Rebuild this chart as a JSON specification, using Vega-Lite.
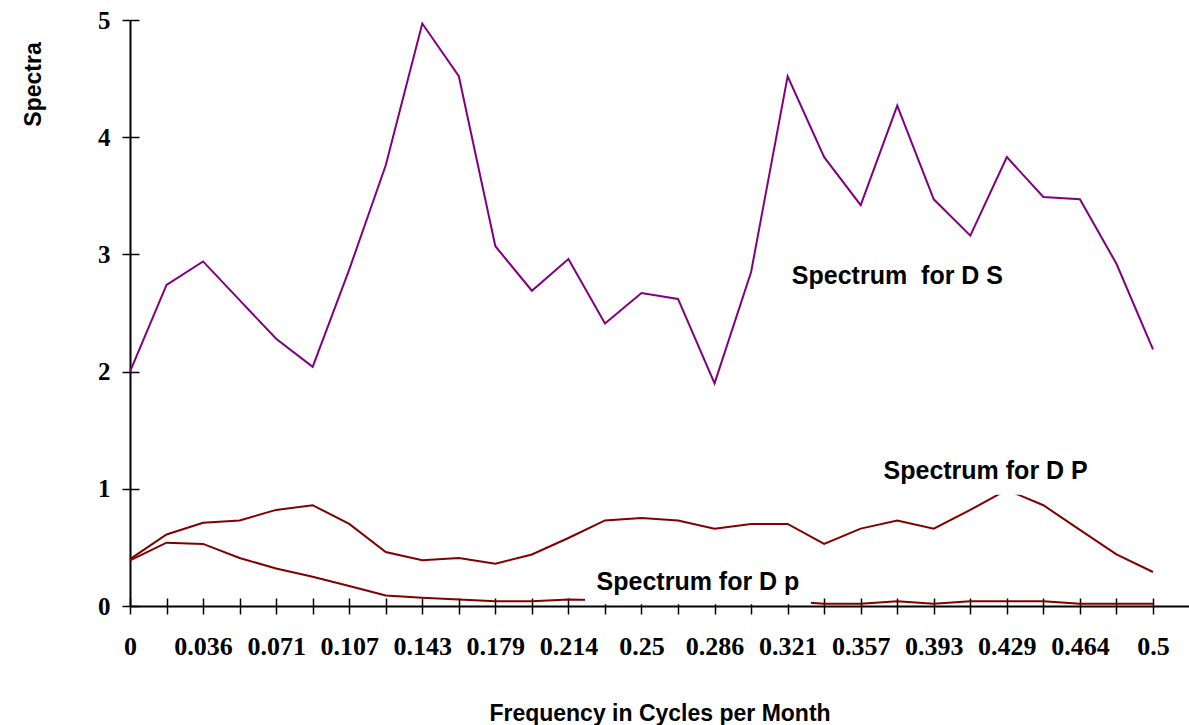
{
  "$schema": "https://vega.github.io/schema/vega-lite/v6.json",
  "width": 1059,
  "height": 586,
  "autosize": "none",
  "padding": {"left": 130, "top": 20, "right": 0, "bottom": 119},
  "background": "white",
  "config": {"view": {"stroke": null}},
  "datasets": {
    "spectra": [
      {"f": 0, "series": "ΔS", "v": 2.00},
      {"f": 0.017857, "series": "ΔS", "v": 2.74},
      {"f": 0.035714, "series": "ΔS", "v": 2.94},
      {"f": 0.053571, "series": "ΔS", "v": 2.61},
      {"f": 0.071429, "series": "ΔS", "v": 2.28},
      {"f": 0.089286, "series": "ΔS", "v": 2.04},
      {"f": 0.107143, "series": "ΔS", "v": 2.87},
      {"f": 0.125, "series": "ΔS", "v": 3.76},
      {"f": 0.142857, "series": "ΔS", "v": 4.97},
      {"f": 0.160714, "series": "ΔS", "v": 4.52},
      {"f": 0.178571, "series": "ΔS", "v": 3.07},
      {"f": 0.196429, "series": "ΔS", "v": 2.69},
      {"f": 0.214286, "series": "ΔS", "v": 2.96},
      {"f": 0.232143, "series": "ΔS", "v": 2.41},
      {"f": 0.25, "series": "ΔS", "v": 2.67},
      {"f": 0.267857, "series": "ΔS", "v": 2.62},
      {"f": 0.285714, "series": "ΔS", "v": 1.90},
      {"f": 0.303571, "series": "ΔS", "v": 2.85},
      {"f": 0.321429, "series": "ΔS", "v": 4.52},
      {"f": 0.339286, "series": "ΔS", "v": 3.83},
      {"f": 0.357143, "series": "ΔS", "v": 3.42},
      {"f": 0.375, "series": "ΔS", "v": 4.27},
      {"f": 0.392857, "series": "ΔS", "v": 3.47},
      {"f": 0.410714, "series": "ΔS", "v": 3.16},
      {"f": 0.428571, "series": "ΔS", "v": 3.83},
      {"f": 0.446429, "series": "ΔS", "v": 3.49},
      {"f": 0.464286, "series": "ΔS", "v": 3.47},
      {"f": 0.482143, "series": "ΔS", "v": 2.92},
      {"f": 0.5, "series": "ΔS", "v": 2.19},
      {"f": 0, "series": "ΔP", "v": 0.40},
      {"f": 0.017857, "series": "ΔP", "v": 0.61},
      {"f": 0.035714, "series": "ΔP", "v": 0.71},
      {"f": 0.053571, "series": "ΔP", "v": 0.73},
      {"f": 0.071429, "series": "ΔP", "v": 0.82},
      {"f": 0.089286, "series": "ΔP", "v": 0.86},
      {"f": 0.107143, "series": "ΔP", "v": 0.70},
      {"f": 0.125, "series": "ΔP", "v": 0.46},
      {"f": 0.142857, "series": "ΔP", "v": 0.39},
      {"f": 0.160714, "series": "ΔP", "v": 0.41},
      {"f": 0.178571, "series": "ΔP", "v": 0.36},
      {"f": 0.196429, "series": "ΔP", "v": 0.44},
      {"f": 0.214286, "series": "ΔP", "v": 0.58},
      {"f": 0.232143, "series": "ΔP", "v": 0.73},
      {"f": 0.25, "series": "ΔP", "v": 0.75},
      {"f": 0.267857, "series": "ΔP", "v": 0.73},
      {"f": 0.285714, "series": "ΔP", "v": 0.66},
      {"f": 0.303571, "series": "ΔP", "v": 0.70},
      {"f": 0.321429, "series": "ΔP", "v": 0.70},
      {"f": 0.339286, "series": "ΔP", "v": 0.53},
      {"f": 0.357143, "series": "ΔP", "v": 0.66},
      {"f": 0.375, "series": "ΔP", "v": 0.73},
      {"f": 0.392857, "series": "ΔP", "v": 0.66},
      {"f": 0.410714, "series": "ΔP", "v": 0.82},
      {"f": 0.428571, "series": "ΔP", "v": 0.99},
      {"f": 0.446429, "series": "ΔP", "v": 0.86},
      {"f": 0.464286, "series": "ΔP", "v": 0.65},
      {"f": 0.482143, "series": "ΔP", "v": 0.44},
      {"f": 0.5, "series": "ΔP", "v": 0.29},
      {"f": 0, "series": "Δp", "v": 0.39},
      {"f": 0.017857, "series": "Δp", "v": 0.54},
      {"f": 0.035714, "series": "Δp", "v": 0.53},
      {"f": 0.053571, "series": "Δp", "v": 0.41},
      {"f": 0.071429, "series": "Δp", "v": 0.32},
      {"f": 0.089286, "series": "Δp", "v": 0.25},
      {"f": 0.107143, "series": "Δp", "v": 0.17},
      {"f": 0.125, "series": "Δp", "v": 0.09},
      {"f": 0.142857, "series": "Δp", "v": 0.07},
      {"f": 0.160714, "series": "Δp", "v": 0.055},
      {"f": 0.178571, "series": "Δp", "v": 0.04},
      {"f": 0.196429, "series": "Δp", "v": 0.04},
      {"f": 0.214286, "series": "Δp", "v": 0.055},
      {"f": 0.232143, "series": "Δp", "v": 0.05},
      {"f": 0.25, "series": "Δp", "v": 0.05},
      {"f": 0.267857, "series": "Δp", "v": 0.05},
      {"f": 0.285714, "series": "Δp", "v": 0.05},
      {"f": 0.303571, "series": "Δp", "v": 0.05},
      {"f": 0.321429, "series": "Δp", "v": 0.04},
      {"f": 0.339286, "series": "Δp", "v": 0.02},
      {"f": 0.357143, "series": "Δp", "v": 0.02},
      {"f": 0.375, "series": "Δp", "v": 0.04},
      {"f": 0.392857, "series": "Δp", "v": 0.02},
      {"f": 0.410714, "series": "Δp", "v": 0.04},
      {"f": 0.428571, "series": "Δp", "v": 0.04},
      {"f": 0.446429, "series": "Δp", "v": 0.04},
      {"f": 0.464286, "series": "Δp", "v": 0.02},
      {"f": 0.482143, "series": "Δp", "v": 0.02},
      {"f": 0.5, "series": "Δp", "v": 0.02}
    ],
    "labels": [
      {"f": 0.3751, "v": 2.816, "label": "Spectrum \u00a0for D S", "f1": 0.3, "f2": 0.3, "v1": 2.8, "v2": 2.8},
      {"f": 0.4182, "v": 1.152, "label": "Spectrum for D P", "f1": 0.3631, "f2": 0.4731, "v1": 0.95, "v2": 1.35},
      {"f": 0.2776, "v": 0.205, "label": "Spectrum for D p", "f1": 0.2224, "f2": 0.3328, "v1": 0.015, "v2": 0.33}
    ]
  },
  "layer": [
    {
      "data": {"name": "spectra"},
      "mark": {"type": "line", "strokeWidth": 2},
      "encoding": {
        "x": {
          "field": "f", "type": "quantitative",
          "scale": {"domain": [0, 0.5176], "nice": false, "zero": false},
          "axis": {
            "orient": "bottom",
            "title": "Frequency in Cycles per Month",
            "titleFont": "Liberation Sans", "titleFontWeight": "bold", "titleFontSize": 23, "titleColor": "black",
            "titleY": 107, "titleBaseline": "middle",
            "values": [0, 0.017857, 0.035714, 0.053571, 0.071429, 0.089286, 0.107143, 0.125, 0.142857, 0.160714, 0.178571, 0.196429, 0.214286, 0.232143, 0.25, 0.267857, 0.285714, 0.303571, 0.321429, 0.339286, 0.357143, 0.375, 0.392857, 0.410714, 0.428571, 0.446429, 0.464286, 0.482143, 0.5],
            "labelExpr": "round(datum.value * 56) % 2 == 0 ? format(datum.value, '.3~f') : ''",
            "labelFont": "Liberation Serif", "labelFontWeight": "bold", "labelFontSize": 26, "labelColor": "black",
            "labelPadding": 19, "labelFlush": false, "labelOverlap": false,
            "tickSize": 8, "tickColor": "black", "tickWidth": 1.5,
            "domainColor": "black", "domainWidth": 2, "grid": false
          }
        },
        "y": {
          "field": "v", "type": "quantitative",
          "scale": {"domain": [0, 5], "nice": false},
          "axis": {
            "orient": "left",
            "title": "Spectra",
            "titleFont": "Liberation Sans", "titleFontWeight": "bold", "titleFontSize": 23, "titleColor": "black",
            "titleAngle": -90, "titleX": -97, "titleY": 64, "titleAlign": "center", "titleBaseline": "middle",
            "values": [0, 1, 2, 3, 4, 5],
            "labelFont": "Liberation Serif", "labelFontWeight": "bold", "labelFontSize": 25, "labelColor": "black",
            "labelPadding": 12, "labelFlush": false, "labelOverlap": false,
            "tickSize": 8, "tickColor": "black", "tickWidth": 1.5,
            "domainColor": "black", "domainWidth": 2, "grid": false
          }
        },
        "color": {
          "field": "series", "type": "nominal",
          "scale": {"domain": ["ΔS", "ΔP", "Δp"], "range": ["#800080", "#800000", "#800000"]},
          "legend": null
        }
      }
    },
    {
      "data": {"name": "spectra"},
      "mark": {"type": "point", "opacity": 0},
      "encoding": {
        "x": {
          "field": "f", "type": "quantitative",
          "scale": {"domain": [0, 0.5176], "nice": false, "zero": false},
          "axis": {
            "orient": "bottom",
            "title": null, "labels": false, "domain": false, "grid": false,
            "values": [0, 0.017857, 0.035714, 0.053571, 0.071429, 0.089286, 0.107143, 0.125, 0.142857, 0.160714, 0.178571, 0.196429, 0.214286, 0.232143, 0.25, 0.267857, 0.285714, 0.303571, 0.321429, 0.339286, 0.357143, 0.375, 0.392857, 0.410714, 0.428571, 0.446429, 0.464286, 0.482143, 0.5],
            "tickSize": -8, "tickColor": "black", "tickWidth": 1.5
          }
        },
        "y": {
          "field": "v", "type": "quantitative",
          "scale": {"domain": [0, 5], "nice": false},
          "axis": {
            "orient": "left",
            "title": null, "labels": false, "domain": false, "grid": false,
            "values": [0, 1, 2, 3, 4, 5],
            "tickSize": -9, "tickColor": "black", "tickWidth": 1.5
          }
        }
      }
    },
    {
      "data": {"name": "labels"},
      "transform": [{"filter": "datum.f2 > datum.f1"}],
      "mark": {"type": "rect", "fill": "white", "stroke": null},
      "encoding": {
        "x": {"field": "f1", "type": "quantitative", "scale": {"domain": [0, 0.5176], "nice": false, "zero": false}, "axis": null},
        "x2": {"field": "f2"},
        "y": {"field": "v1", "type": "quantitative", "scale": {"domain": [0, 5], "nice": false}, "axis": null},
        "y2": {"field": "v2"}
      }
    },
    {
      "data": {"name": "labels"},
      "mark": {"type": "text", "font": "Liberation Sans", "fontWeight": "bold", "fontSize": 25, "color": "black", "align": "center", "baseline": "middle"},
      "encoding": {
        "x": {"field": "f", "type": "quantitative", "scale": {"domain": [0, 0.5176], "nice": false, "zero": false}, "axis": null},
        "y": {"field": "v", "type": "quantitative", "scale": {"domain": [0, 5], "nice": false}, "axis": null},
        "text": {"field": "label"}
      }
    }
  ],
  "resolve": {"axis": {"x": "independent", "y": "independent"}}
}
